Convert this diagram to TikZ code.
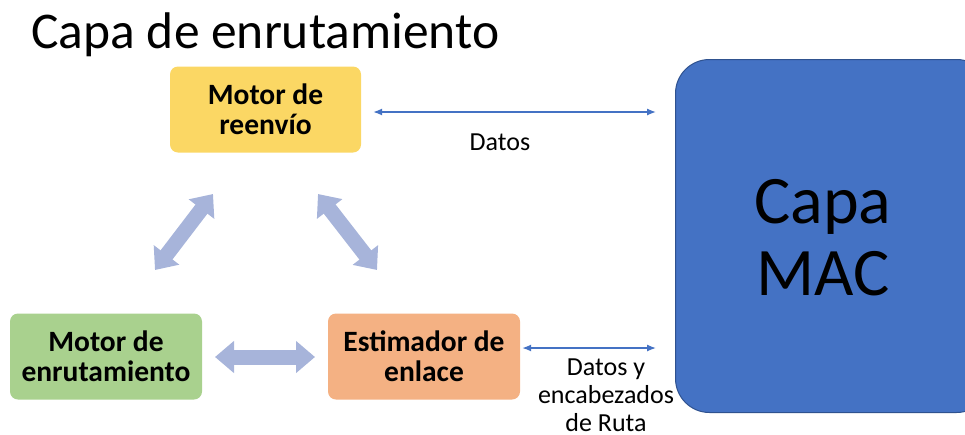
\documentclass[tikz,border=0pt]{standalone}
\usepackage{fontspec}
\setmainfont{Carlito}
\usetikzlibrary{arrows.meta}
\definecolor{yel}{HTML}{FBD764}
\definecolor{grn}{HTML}{A9D18E}
\definecolor{org}{HTML}{F4B183}
\definecolor{macblue}{HTML}{4472C4}
\definecolor{macedge}{HTML}{2F528F}
\definecolor{lineblue}{HTML}{4472C4}
\definecolor{blockc}{HTML}{A7B4DA}
\tikzset{
  box/.style={rounded corners=8pt, align=center, font=\fontsize{29.5}{30}\selectfont\bfseries, inner sep=0pt},
  thin/.style={draw=lineblue, line width=1.3pt, {Latex[length=9pt,width=7pt]}-{Latex[length=9pt,width=7pt]}},
  blockarr/.style={draw=blockc, line width=15pt, {Triangle[length=19pt,width=31pt]}-{Triangle[length=19pt,width=31pt]}},
  lbl/.style={font=\fontsize{26}{28}\selectfont, align=center, inner sep=0pt}
}
\begin{document}
\begin{tikzpicture}[x=1pt,y=-1pt]
\useasboundingbox (0,0) rectangle (965,434);
\begin{scope}
\clip (0,0) rectangle (965,434);
\node[draw=macedge, line width=1pt, fill=macblue, rounded corners=34pt, minimum width=315pt, minimum height=353pt, anchor=north west] (mac) at (675,59) {};
\end{scope}
\node[font=\fontsize{68}{72}\selectfont, align=center] (mactext) at (823,238) {Capa\\MAC};
\node[anchor=west, font=\fontsize{51.5}{60}\selectfont] (title) at (28,35) {Capa de enrutamiento};
\node[box, fill=yel, minimum width=191pt, minimum height=86pt] (fwd) at (265.5,109.5) {Motor de\\reenvío};
\node[box, fill=grn, minimum width=192pt, minimum height=86pt] (rout) at (106,356.5) {Motor de\\enrutamiento};
\node[box, fill=org, minimum width=192pt, minimum height=86pt] (est) at (424,356.5) {Estimador de\\enlace};
\coordinate (a1) at (213,194);
\coordinate (a2) at (155,270);
\coordinate (b1) at (318,194);
\coordinate (b2) at (377,270);
\coordinate (c1) at (215,357);
\coordinate (c2) at (315,357);
\draw[blockarr] (a1) -- (a2);
\draw[blockarr] (b1) -- (b2);
\draw[blockarr] (c1) -- (c2);
\coordinate (t2) at (656,112);
\coordinate (u2) at (656,348);
\draw[thin] (fwd.east |- t2) ++(12,0) -- (t2);
\draw[thin] (est.east |- u2) ++(2,0) -- (u2);
\node[lbl] (datos) at (500,142) {Datos};
\node[lbl] (datos2) at (606,395) {Datos y\\encabezados\\de Ruta};
\end{tikzpicture}
\end{document}
